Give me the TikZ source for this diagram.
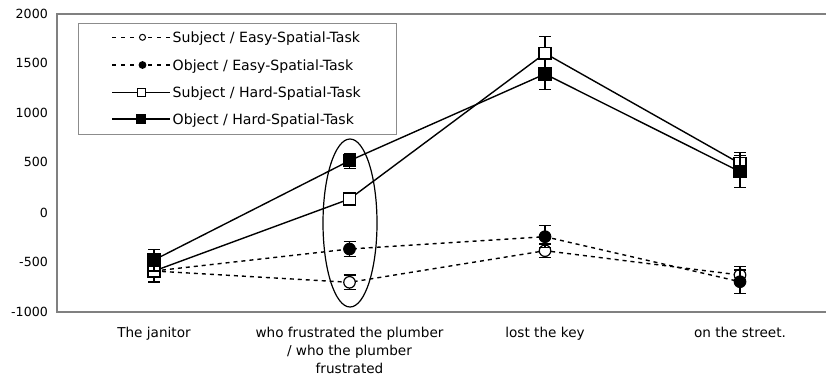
\documentclass[tikz,border=0pt]{standalone}
\usepackage{fontspec}
\setmainfont{DejaVu Sans}
\usetikzlibrary{shapes.geometric}
\newcommand\errbar[3]{\draw[ebar] (#1,#2) -- (#1,#3) (#1-6,#2) -- (#1+6,#2) (#1-6,#3) -- (#1+6,#3);}
\begin{document}
\begin{tikzpicture}[x=1pt,y=-1pt,
  axisframe/.style={draw=black!50, line width=1.1pt},
  legframe/.style={draw=black!45, line width=0.8pt},
  dline/.style={black, line width=1.4pt, dash pattern=on 4pt off 4pt},
  sline/.style={black, line width=1.4pt},
  ebar/.style={black, line width=1.2pt},
  mk/.style={draw=black, line width=1.2pt, inner sep=0pt},
  ocirc/.style={mk, circle, fill=white, minimum size=11.5pt},
  fcirc/.style={mk, circle, fill=black, minimum size=11.5pt},
  osq/.style={mk, rectangle, fill=white, minimum size=12pt},
  fsq/.style={mk, rectangle, fill=black, minimum size=12pt},
  locirc/.style={mk, circle, fill=white, minimum size=6pt, line width=1pt},
  lfcirc/.style={mk, circle, fill=black, minimum size=6.5pt},
  losq/.style={mk, rectangle, fill=white, minimum size=8pt, line width=1pt},
  lfsq/.style={mk, rectangle, fill=black, minimum size=8.5pt},
  ldline/.style={black, line width=1.2pt, dash pattern=on 4pt off 5pt},
  lsline/.style={black, line width=1.3pt},
  num/.style={anchor=base east, inner sep=0pt, font=\fontsize{12.6}{15}\selectfont},
  lab/.style={anchor=north, inner sep=0pt, align=center, font=\fontsize{13.6}{18}\selectfont},
  legtext/.style={anchor=base west, inner sep=0pt, font=\fontsize{14.1}{16}\selectfont},
  focus/.style={draw=black, line width=1.2pt, ellipse, inner sep=0pt, minimum width=54pt, minimum height=168pt}
]
\useasboundingbox (0,0) rectangle (826,376);

% axis frame
\draw[axisframe] (826,14) -- (57,14) -- (57,312) -- (826,312);

% y labels
\node[num] (y2000) at (48,18.5) {2000};
\node[num] (y1500) at (48,67.3) {1500};
\node[num] (y1000) at (48,117) {1000};
\node[num] (y500) at (48,166.8) {500};
\node[num] (y0) at (48,217.2) {0};
\node[num] (ym500) at (48,266.3) {-500};
\node[num] (ym1000) at (48,316.2) {-1000};

% x labels
\node[lab] (xl1) at (154,326.5) {The janitor};
\node[lab] (xl2) at (349.5,326.5) {who frustrated the plumber\\/ who the plumber\\frustrated};
\node[lab] (xl3) at (545,326.5) {lost the key};
\node[lab] (xl4) at (740,326.5) {on the street.};

% data coordinates
\coordinate (se1) at (154,271);   \coordinate (se2) at (349.5,282.3);
\coordinate (se3) at (545,250.7); \coordinate (se4) at (740,275);
\coordinate (oe1) at (154,271);   \coordinate (oe2) at (349.5,249);
\coordinate (oe3) at (545,236.7); \coordinate (oe4) at (740,281.7);
\coordinate (sh1) at (154,271);   \coordinate (sh2) at (349.5,199);
\coordinate (sh3) at (545,53.3);  \coordinate (sh4) at (740,163.5);
\coordinate (oh1) at (154,260);   \coordinate (oh2) at (349.5,160.7);
\coordinate (oh3) at (545,74);    \coordinate (oh4) at (740,171.7);

% Subject / Easy
\draw[dline] (se1) -- (se2) -- (se3) -- (se4);
\errbar{154}{260}{282}\errbar{349.5}{275}{289.5}\errbar{545}{244}{257.3}\errbar{740}{266.7}{283.3}
\node[ocirc] (mse1) at (se1) {}; \node[ocirc] (mse2) at (se2) {};
\node[ocirc] (mse3) at (se3) {}; \node[ocirc] (mse4) at (se4) {};

% Object / Easy
\draw[dline] (oe1) -- (oe2) -- (oe3) -- (oe4);
\errbar{154}{260}{282}\errbar{349.5}{241.7}{256.3}\errbar{545}{225.7}{247.7}\errbar{740}{270}{293.3}
\node[fcirc] (moe1) at (oe1) {}; \node[fcirc] (moe2) at (oe2) {};
\node[fcirc] (moe3) at (oe3) {}; \node[fcirc] (moe4) at (oe4) {};

% Subject / Hard
\draw[sline] (sh1) -- (sh2) -- (sh3) -- (sh4);
\errbar{154}{260}{282}\errbar{349.5}{194}{204}\errbar{545}{36.7}{70}\errbar{740}{152.3}{174.7}
\node[osq] (msh1) at (sh1) {}; \node[osq] (msh2) at (sh2) {};
\node[osq] (msh3) at (sh3) {}; \node[osq] (msh4) at (sh4) {};

% Object / Hard
\draw[sline] (oh1) -- (oh2) -- (oh3) -- (oh4);
\errbar{154}{249.5}{271}\errbar{349.5}{153.3}{168.3}\errbar{545}{58.7}{89.3}\errbar{740}{155.7}{187.7}
\node[fsq] (moh1) at (oh1) {}; \node[fsq] (moh2) at (oh2) {};
\node[fsq] (moh3) at (oh3) {}; \node[fsq] (moh4) at (oh4) {};

% highlight ellipse
\node[focus] (ell) at (350,223) {};

% legend
\draw[legframe, fill=white] (78,23) rectangle (396,134);
\coordinate (l1a) at (112,37.3); \coordinate (l1b) at (170,37.3);
\coordinate (l2a) at (112,65);   \coordinate (l2b) at (170,65);
\coordinate (l3a) at (112,92.3); \coordinate (l3b) at (170,92.3);
\coordinate (l4a) at (112,119);  \coordinate (l4b) at (170,119);
\draw[ldline] (l1a) -- (l1b);
\draw[ldline] (l2a) -- (l2b);
\draw[lsline] (l3a) -- (l3b);
\draw[lsline] (l4a) -- (l4b);
\node[locirc] (lm1) at (142.5,37.3) {};
\node[lfcirc] (lm2) at (142.5,65) {};
\node[losq] (lm3) at (141,92.3) {};
\node[lfsq] (lm4) at (141,119) {};
\node[legtext] (lt1) at (172.5,42.4) {Subject / Easy-Spatial-Task};
\node[legtext] (lt2) at (172.5,70.1) {Object / Easy-Spatial-Task};
\node[legtext] (lt3) at (172.5,97.4) {Subject / Hard-Spatial-Task};
\node[legtext] (lt4) at (172.5,124.1) {Object / Hard-Spatial-Task};
\end{tikzpicture}
\end{document}
